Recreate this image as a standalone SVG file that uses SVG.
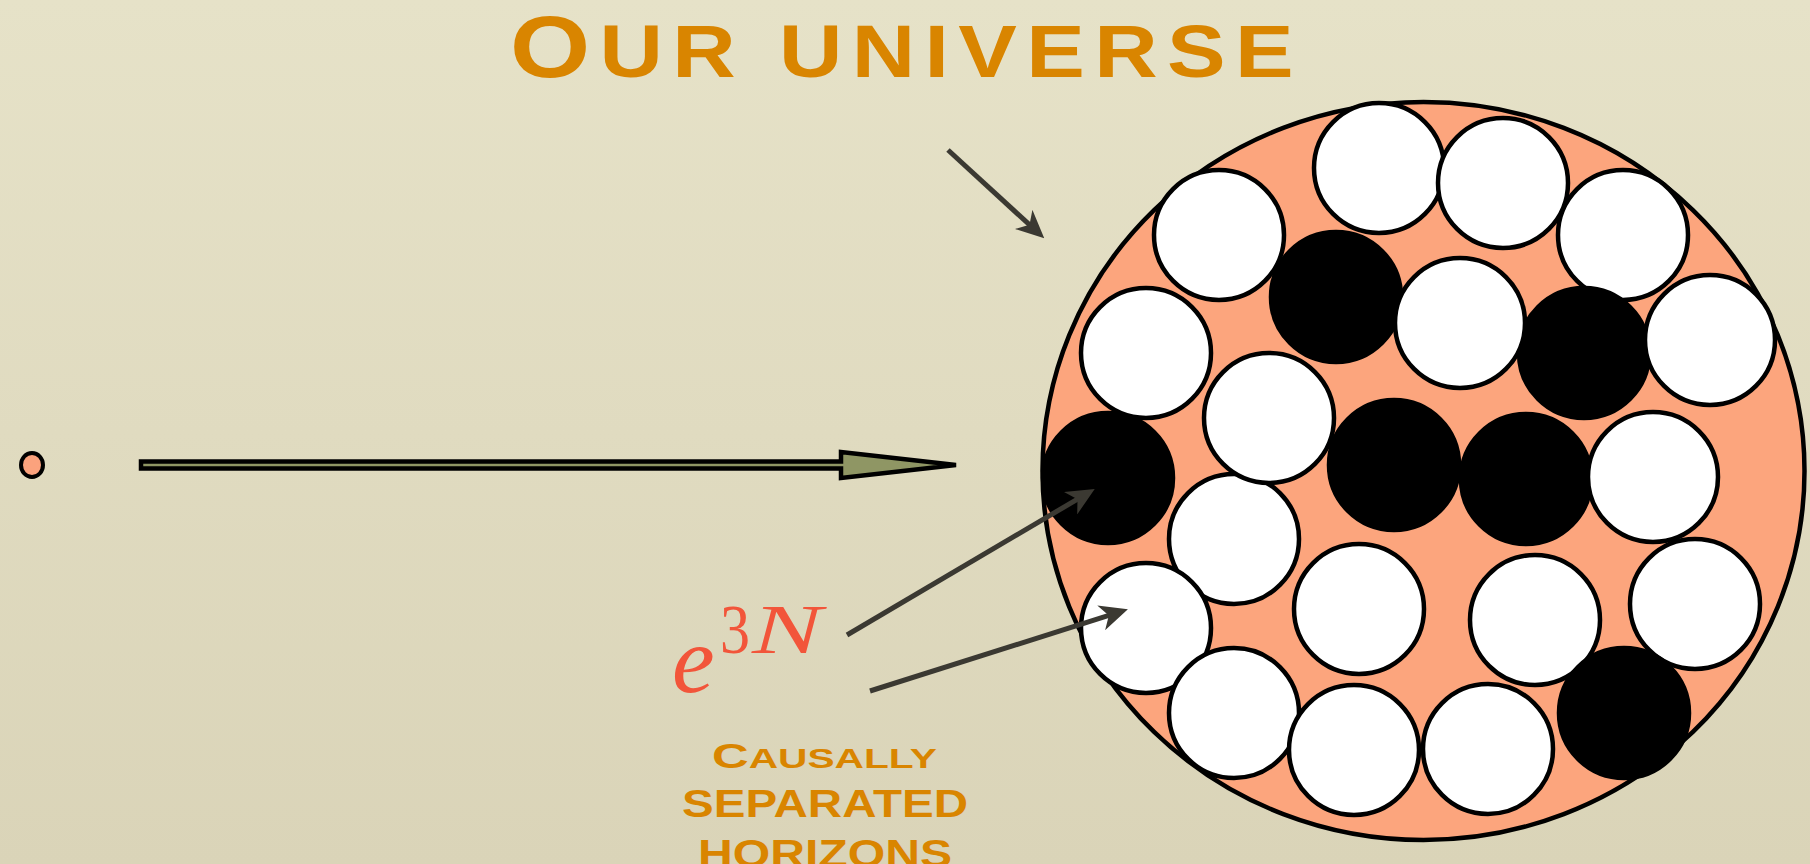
<svg xmlns="http://www.w3.org/2000/svg" width="1810" height="864" viewBox="0 0 1810 864">
  <defs>
    <linearGradient id="bg" x1="0" y1="0" x2="0" y2="1">
      <stop offset="0" stop-color="#E6E2C8"/>
      <stop offset="1" stop-color="#DAD4B8"/>
    </linearGradient>
    <marker id="ah" viewBox="0 0 28 26" refX="13" refY="13" markerWidth="28" markerHeight="26" markerUnits="userSpaceOnUse" orient="auto">
      <path d="M0,0 L28,13 L0,26 L8,13 Z" fill="#3B3932"/>
    </marker>
    <style>
      .w { fill: #FFFFFF; stroke: #000; stroke-width: 4.5; }
      .b { fill: #000; stroke: #000; stroke-width: 4.5; }
      .cap { font-family: "Liberation Sans", Arial, sans-serif; font-weight: bold; fill: #D98500; }
      .conn { stroke: #3B3932; stroke-width: 5; fill: none; marker-end: url(#ah); }
    </style>
  </defs>
  <rect x="0" y="0" width="1810" height="864" fill="url(#bg)"/>

  <g id="title">
    <text class="cap" x="510" y="77" textLength="793" lengthAdjust="spacingAndGlyphs" letter-spacing="8"><tspan font-size="88">O</tspan><tspan font-size="75">UR UNIVERSE</tspan></text>
  </g>

  <g id="seed">
    <ellipse cx="32" cy="465" rx="11" ry="12" fill="#FBA27D" stroke="#000" stroke-width="4"/>
  </g>

  <g id="expansion-arrow">
    <polygon points="141,461.5 841,461.5 841,452 956,465 841,478 841,468.5 141,468.5" fill="#8F9664" stroke="#000" stroke-width="4.5" stroke-linejoin="miter"/>
  </g>

  <g id="universe">
    <ellipse cx="1423.5" cy="471" rx="381" ry="369" fill="#FCA57D" stroke="#000" stroke-width="4.5"/>
  </g>

  <g id="horizons">
    <g id="h-I"><circle class="w" cx="1623" cy="235" r="65"/></g>
    <g id="h-X"><circle class="w" cx="1535" cy="620" r="65"/></g>
    <g id="h-Y"><circle class="w" cx="1695" cy="604" r="65"/></g>
    <g id="h-Q"><circle class="w" cx="1234" cy="539" r="65"/></g>
    <g id="h-C"><circle class="b" cx="1336" cy="297" r="65"/></g>
    <g id="h-K"><circle class="b" cx="1584" cy="353" r="65"/></g>
    <g id="h-F"><circle class="b" cx="1108" cy="478" r="65"/></g>
    <g id="h-G"><circle class="b" cx="1394" cy="465" r="65"/></g>
    <g id="h-M"><circle class="b" cx="1526" cy="479" r="65"/></g>
    <g id="h-Z"><circle class="b" cx="1624" cy="713" r="65"/></g>
    <g id="h-A"><circle class="w" cx="1219" cy="235" r="65"/></g>
    <g id="h-B"><circle class="w" cx="1379" cy="168" r="65"/></g>
    <g id="h-H"><circle class="w" cx="1503" cy="183" r="65"/></g>
    <g id="h-D"><circle class="w" cx="1146" cy="353" r="65"/></g>
    <g id="h-J"><circle class="w" cx="1460" cy="323" r="65"/></g>
    <g id="h-L"><circle class="w" cx="1710" cy="340" r="65"/></g>
    <g id="h-E"><circle class="w" cx="1269" cy="418" r="65"/></g>
    <g id="h-N"><circle class="w" cx="1653" cy="477" r="65"/></g>
    <g id="h-S"><circle class="w" cx="1146" cy="628" r="65"/></g>
    <g id="h-T"><circle class="w" cx="1359" cy="609" r="65"/></g>
    <g id="h-U"><circle class="w" cx="1234" cy="713" r="65"/></g>
    <g id="h-V"><circle class="w" cx="1354" cy="750" r="65"/></g>
    <g id="h-AA"><circle class="w" cx="1488" cy="749" r="65"/></g>
  </g>

  <g id="e3N">
    <text font-family="'Liberation Serif', 'Times New Roman', serif" fill="#F2553A">
      <tspan x="672" y="692" font-size="96" font-style="italic">e</tspan>
      <tspan x="720" y="653" font-size="70" textLength="30" lengthAdjust="spacingAndGlyphs">3</tspan>
      <tspan x="752" y="653" font-size="70" font-style="italic" textLength="70" lengthAdjust="spacingAndGlyphs">N</tspan>
    </text>
  </g>

  <g id="caption">
    <text class="cap" x="712" y="768" textLength="225" lengthAdjust="spacingAndGlyphs"><tspan font-size="35">C</tspan><tspan font-size="28">AUSALLY</tspan></text>
    <text class="cap" x="682" y="817" font-size="38" textLength="286" lengthAdjust="spacingAndGlyphs">SEPARATED</text>
    <text class="cap" x="698" y="867" font-size="38" textLength="254" lengthAdjust="spacingAndGlyphs">HORIZONS</text>
  </g>

  <g id="connectors">
    <line class="conn" x1="948" y1="150" x2="1033.2" y2="228.2"/>
    <line class="conn" x1="847" y1="635" x2="1081.8" y2="496.6"/>
    <line class="conn" x1="870" y1="691" x2="1113.6" y2="613.9"/>
  </g>
</svg>
